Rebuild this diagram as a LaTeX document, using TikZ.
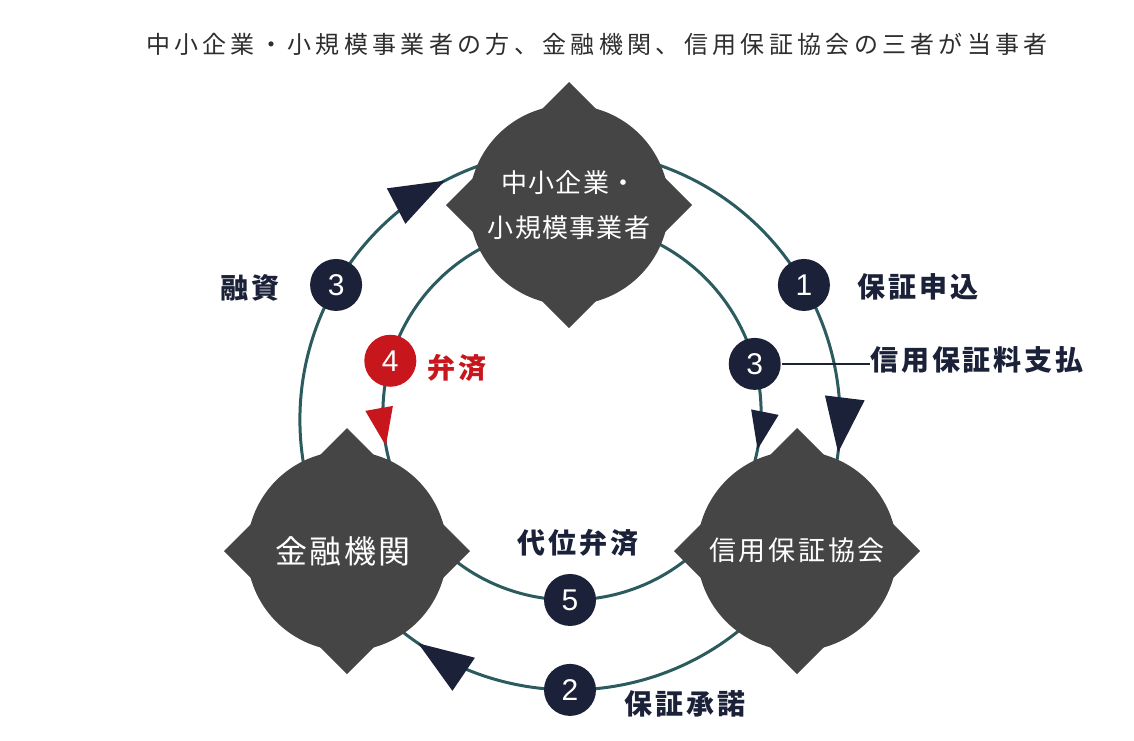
\documentclass[tikz,border=0pt]{standalone}
\usepackage{fontspec}
\setmainfont{Noto Sans CJK JP}
\newfontfamily\digitfont{Liberation Sans}
\usetikzlibrary{arrows.meta,decorations.markings}
\definecolor{nodegray}{HTML}{454545}
\definecolor{arcteal}{HTML}{2B5A5F}
\definecolor{navy}{HTML}{1B2138}
\definecolor{redc}{HTML}{C8161D}
\definecolor{titlegray}{HTML}{2E2E2E}
\begin{document}
\begin{tikzpicture}[x=1pt,y=1pt,
  actor/.style={circle, fill=nodegray, minimum size=200pt, inner sep=0pt, text=white, align=center},
  cusps/.style={fill=nodegray},
  numdot/.style={circle, fill=navy, minimum size=52pt, inner sep=0pt, text=white, font=\digitfont\fontsize{30}{30}\selectfont},
  flow/.style={draw=arcteal, line width=3pt},
  lbl/.style={font=\bfseries\fontsize{28}{28}\selectfont\addfontfeature{LetterSpace=10}, text=navy, inner sep=0pt},
  bigarrow/.style 2 args={postaction={decorate, decoration={markings, mark=at position #1 with {\arrow{Triangle[length=55pt,width=40pt,line width=0pt,color=#2]}}}}},
  smallarrow/.style 2 args={postaction={decorate, decoration={markings, mark=at position #1 with {\arrow{Triangle[length=38pt,width=28pt,line width=0pt,color=#2]}}}}}
]
\fill[white] (0,0) rectangle (1134,-740);
\useasboundingbox (0,0) rectangle (1134,-740);

% title
\node[text=titlegray, font=\fontsize{24}{24}\selectfont\addfontfeature{LetterSpace=18}] (title) at (597,-44) {中小企業・小規模事業者の方、金融機関、信用保証協会の三者が当事者};

% circle centres and arc end points
\coordinate (O) at (570,-420);
\coordinate (I) at (570,-413);
\path (O) ++(195:270) coordinate (oL1);
\path (O) ++(105:270) coordinate (oT1);
\path (O) ++(75:270)  coordinate (oT2);
\path (O) ++(-15:270) coordinate (oR1);
\path (O) ++(-45:270) coordinate (oR2);
\path (O) ++(-135:270) coordinate (oL2);
\path (I) ++(110:187) coordinate (iT1);
\path (I) ++(200:187) coordinate (iL1);
\path (I) ++(70:191)  coordinate (iT2);
\path (I) ++(-20:191) coordinate (iR1);
\path (I) ++(-140:187) coordinate (iL2);
\path (I) ++(-40:187) coordinate (iR2);

% outer arcs
\draw[flow, bigarrow={0.86}{navy}] (oL1) to[bend left=45] node[numdot, pos=0.5] (m3a) {3} (oT1);
\draw[flow, bigarrow={0.91}{navy}] (oT2) to[bend left=45] node[numdot, pos=0.5] (m1) {1} (oR1);
\draw[flow, bigarrow={0.88}{navy}] (oR2) to[bend left=45] node[numdot, pos=0.5] (m2) {2} (oL2);
% inner arcs
\draw[flow, smallarrow={0.89}{redc}] (iT1) to[bend right=45] node[numdot, fill=redc, pos=0.6] (m4) {4} (iL1);
\draw[flow, smallarrow={0.90}{navy}] (iT2) to[bend left=45] node[numdot, pos=0.615] (m3b) {3} (iR1);
\draw[flow] (iL2) to[bend right=50, looseness=1.04] node[numdot, pos=0.5] (m5) {5} (iR2);

% actors: cusps first, then round bodies with their texts
\coordinate (smeC) at (569,-205);
\coordinate (bankC) at (347,-551);
\coordinate (cgcC) at (797,-551);
\foreach \n in {smeC,bankC,cgcC}{
  \fill[cusps] (\n) +(0,123) -- +(123,0) -- +(0,-123) -- +(-123,0) -- cycle;
}
\node[actor, font=\fontsize{26}{45}\selectfont\addfontfeature{LetterSpace=5}] (sme) at (smeC) {中小企業・\\小規模事業者};
\node[actor, font=\fontsize{32}{32}\selectfont\addfontfeature{LetterSpace=8}] (bank) at (bankC) {\hspace*{-8pt}金融機関};
\node[actor, font=\fontsize{27}{27}\selectfont\addfontfeature{LetterSpace=10}] (cgc) at (cgcC) {\raisebox{3pt}{信用保証協会}};

% labels
\node[lbl] (lyushi) at (250,-288) {融資};
\node[lbl] (lmoushi) at (918,-287) {保証申込};
\node[lbl] (lfee) at (977,-360) {信用保証料支払};
\node[lbl, text=redc] (lbensai) at (457,-368) {弁済};
\node[lbl] (ldaii) at (578,-543) {代位弁済};
\node[lbl] (lshodaku) at (685,-704) {保証承諾};
\draw[navy, line width=1.3pt] (m3b.east) -- (m3b.east -| lfee.west);
\end{tikzpicture}
\end{document}
